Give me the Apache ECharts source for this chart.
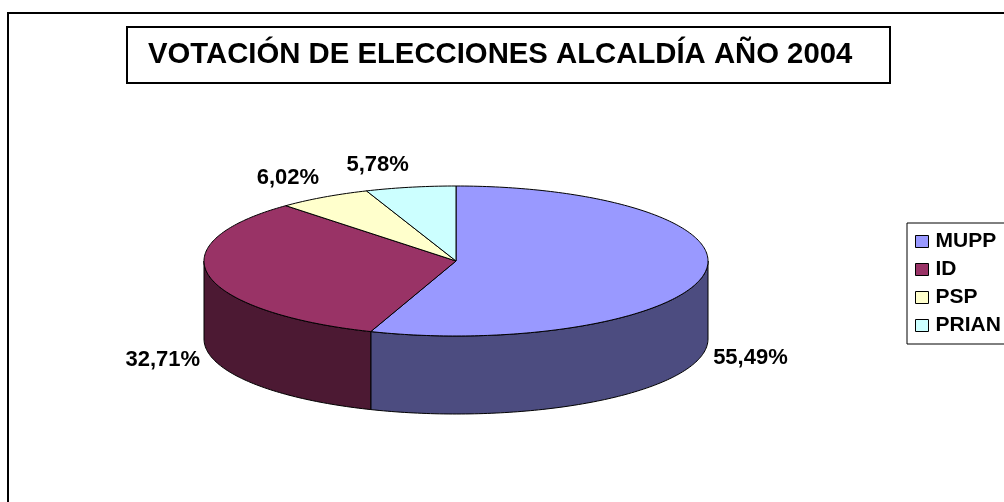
<!DOCTYPE html>
<html>
<head>
<meta charset="utf-8">
<title>Votación elecciones alcaldía 2004</title>
<script src="https://cdn.jsdelivr.net/npm/echarts@6/dist/echarts.min.js"></script>
<style>
  html, body { margin: 0; padding: 0; background: #fff; }
  #main { width: 1004px; height: 502px; }
</style>
</head>
<body>
<div id="main"></div>
<script>
const partidos = ['MUPP', 'ID', 'PSP', 'PRIAN']
const porcentajes = [55.49, 32.71, 6.02, 5.78]
const coloresCara = ['#9999FF', '#993366', '#FFFFCC', '#CCFFFF']
const coloresLado = ['#4C4C80', '#4C1933', '#80805F', '#5F8080']

const fuente = "'Liberation Sans', Arial, sans-serif"

// geometria del pastel 3D (elipse + grosor)
const cx = 456, cy = 261, rx = 252, ry = 75, grosor = 78

const total = porcentajes.reduce((a, b) => a + b, 0)
const inicios = []
porcentajes.reduce((acc, v, i) => { inicios[i] = acc; return acc + v }, 0)

function punto(a, dy) {
  return [cx + rx * Math.sin(a), cy - ry * Math.cos(a) + (dy || 0)]
}

function arco(desde, hasta, dy) {
  const n = Math.max(2, Math.ceil(Math.abs(hasta - desde) / (Math.PI / 180)))
  const pts = []
  for (let k = 0; k <= n; k++) {
    pts.push(punto(desde + (hasta - desde) * k / n, dy))
  }
  return pts
}

function renderItem(params, api) {
  const i = params.seriesIndex
  const inicio = api.value(0)
  const valor = api.value(1)
  const a0 = inicio / total * Math.PI * 2
  const a1 = (inicio + valor) / total * Math.PI * 2
  const borde = { stroke: '#000', lineWidth: 1, lineJoin: 'round' }
  const hijos = []

  // lado visible (mitad delantera)
  const lo = Math.max(a0, Math.PI / 2)
  const hi = Math.min(a1, Math.PI * 1.5)
  if (hi > lo) {
    hijos.push({
      type: 'polygon',
      shape: { points: arco(lo, hi, 0).concat(arco(hi, lo, grosor)) },
      style: Object.assign({ fill: coloresLado[i] }, borde)
    })
  }

  // cara superior
  hijos.push({
    type: 'polygon',
    shape: { points: [[cx, cy]].concat(arco(a0, a1, 0)) },
    style: Object.assign({ fill: coloresCara[i] }, borde)
  })

  // etiqueta
  const am = (a0 + a1) / 2
  const s = Math.sin(am), c = Math.cos(am)
  const lx = cx + (rx + 9) * s
  const ly = c < 0 ? cy - ry * c + grosor + 6 : cy - (ry + 23) * c
  hijos.push({
    type: 'text',
    x: lx,
    y: ly,
    style: {
      text: valor.toFixed(2).replace('.', ',') + '%',
      fill: '#000',
      font: 'bold 22px ' + fuente,
      align: s < 0 ? 'right' : 'left',
      verticalAlign: 'middle'
    }
  })

  return { type: 'group', children: hijos }
}

const chart = echarts.init(document.getElementById('main'))

chart.setOption({
  animation: false,
  title: {
    text: 'VOTACIÓN DE ELECCIONES ALCALDÍA AÑO 2004',
    left: 127,
    top: 27,
    padding: [13, 38, 13, 21],
    borderColor: '#000',
    borderWidth: 2,
    textStyle: {
      fontFamily: fuente,
      fontWeight: 'bold',
      fontSize: 29.3,
      lineHeight: 30,
      color: '#000'
    }
  },
  legend: {
    orient: 'vertical',
    left: 907,
    top: 223,
    padding: [8, 10, 8, 8],
    itemGap: 7,
    itemWidth: 13,
    itemHeight: 12,
    icon: 'rect',
    borderColor: '#000',
    borderWidth: 1,
    data: partidos,
    itemStyle: { borderColor: '#000', borderWidth: 1 },
    textStyle: {
      fontFamily: fuente,
      fontWeight: 'bold',
      fontSize: 21,
      lineHeight: 21,
      color: '#000',
      padding: [0, 0, 0, 2]
    }
  },
  graphic: [{
    type: 'rect',
    shape: { x: 8, y: 13, width: 1100, height: 600 },
    style: { fill: null, stroke: '#000', lineWidth: 2 },
    silent: true
  }],
  series: partidos.map((nombre, i) => ({
    type: 'custom',
    name: nombre,
    coordinateSystem: 'none',
    silent: true,
    itemStyle: { color: coloresCara[i] },
    renderItem: renderItem,
    data: [[inicios[i], porcentajes[i]]]
  }))
})
</script>
</body>
</html>
